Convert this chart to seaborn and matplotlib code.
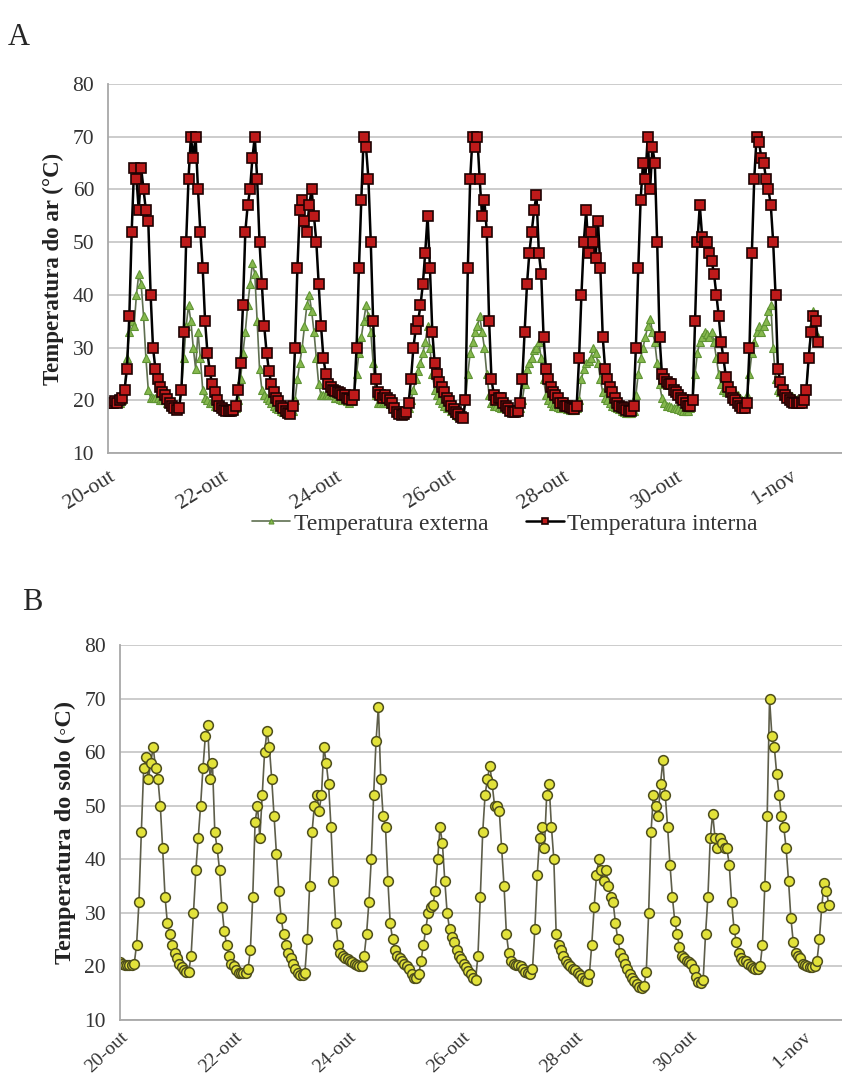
import pandas as pd
import matplotlib.pyplot as plt
import seaborn as sns

# leituras horarias (graus C) a partir de 20-out 00h, uma linha por dia
temp_externa = [
    19.5, 19.5, 19.5, 19.5, 19.5, 19.5, 20, 22, 28, 33, 35, 34, 40, 44, 42, 36, 28, 22, 20.5, 20.5, 20.5, 20.5, 20, 20,
    20, 19.5, 19, 18.7, 18.5, 18.5, 19, 22, 28, 34, 38, 35, 30, 26, 33, 28, 22, 20.5, 20, 19.5, 19.5, 19, 19, 18.8,
    18.7, 18.5, 18.3, 18.2, 18, 18, 18.5, 20, 24, 29, 33, 38, 42, 46, 44, 35, 26, 22, 21, 20.5, 20, 19.5, 19, 18.5,
    18.3, 18, 17.8, 17.5, 17.3, 17.3, 18, 20, 24, 27, 30, 34, 38, 40, 37, 33, 28, 23, 21, 21, 21, 21, 21, 21,
    20.5, 20.5, 20.3, 20, 20, 19.8, 19.5, 19.8, 21, 25, 29, 32, 35, 38, 36, 33, 27, 21, 19.5, 19.5, 19.5, 19.5, 19.5, 19.3,
    19, 18.5, 17.8, 17.3, 17.2, 17.2, 17.5, 18.5, 20, 22, 24, 25.5, 27, 29, 31, 34, 30, 25, 22, 21, 20, 19.5, 19, 18.5,
    18.5, 18, 17.5, 17.2, 17, 17, 17.5, 20, 25, 29, 31, 33, 34, 36, 33, 30, 25, 21, 19.5, 19, 19, 18.8, 18.5, 18.5,
    18.5, 18.3, 18, 17.8, 17.8, 17.8, 18.5, 20, 23, 26, 27, 28, 29.5, 30, 31, 28, 24, 21, 20, 19.5, 19, 19, 18.8, 18.5,
    18.5, 18.5, 18.3, 18.2, 18.2, 18.2, 18.5, 20, 24, 26, 27, 27.5, 28, 30, 29, 27, 24, 21.5, 20.5, 20, 19.5, 19, 18.8, 18.5,
    18.3, 18, 17.8, 17.6, 17.5, 17.5, 18, 21, 25, 28, 30, 32, 34, 35.5, 33, 31, 27, 23, 20.5, 19.5, 19, 19, 18.8, 18.5,
    18.5, 18.3, 18.2, 18, 18, 18, 18.5, 20, 25, 29, 31, 32, 33, 32.5, 32, 33, 31, 28, 25, 23, 22, 21.5, 21.5, 22,
    22, 21.5, 21, 20.5, 20, 20, 21, 25, 29, 31, 33, 34, 33, 34, 35, 37, 38, 30, 24, 22, 21.5, 21.5, 21, 21,
    21, 20.8, 20.5, 20.3, 20, 20, 20, 22, 28, 34, 37, 35, 32,
]

temp_interna = [
    19.5, 19.5, 19.5, 19.8, 19.5, 20, 20.5, 22, 26, 36, 52, 64, 62, 56, 64, 60, 56, 54, 40, 30, 26, 24, 22.5, 21.5,
    21, 20.2, 19.5, 19, 18.5, 18.2, 18.5, 22, 33, 50, 62, 70, 66, 70, 60, 52, 45, 35, 29, 25.5, 23, 21.5, 20, 19,
    18.5, 18.2, 18, 18, 18, 18.2, 19, 22, 27, 38, 52, 57, 60, 66, 70, 62, 50, 42, 34, 29, 25.5, 23, 21.5, 20.5,
    19.8, 19, 18.5, 18, 17.5, 17.3, 19, 30, 45, 56, 58, 54, 52, 57, 60, 55, 50, 42, 34, 28, 25, 23, 22.5, 22,
    21.8, 21.5, 21.3, 21, 21, 20.5, 20.3, 20, 21, 30, 45, 58, 70, 68, 62, 50, 35, 24, 21.5, 21, 20.5, 21, 20.5, 20,
    19.5, 18.5, 17.7, 17.3, 17.2, 17.3, 17.8, 19.5, 24, 30, 33.5, 35, 38, 42, 48, 55, 45, 33, 27, 25, 23.5, 22.5, 21.5, 20.5,
    19.8, 19, 18.3, 17.8, 17.3, 16.8, 16.6, 20, 45, 62, 70, 68, 70, 62, 55, 58, 52, 35, 24, 21, 20, 20.5, 20.5, 19.5,
    19, 18.5, 18, 17.8, 17.8, 18, 19.5, 24, 33, 42, 48, 52, 56, 59, 48, 44, 32, 26, 24, 22.5, 21.5, 21, 20.5, 19.5,
    19.5, 19, 19, 18.7, 18.5, 18.4, 19, 28, 40, 50, 56, 48, 52, 50, 47, 54, 45, 32, 26, 24, 22.5, 21.5, 20.5, 19.5,
    19, 18.7, 18.5, 18.2, 18, 18, 19, 30, 45, 58, 65, 62, 70, 60, 68, 65, 50, 32, 25, 24, 23.5, 23, 23, 22,
    21.5, 21, 20.5, 20, 19.5, 19, 19, 20, 35, 50, 57, 51, 50, 50, 48, 46.5, 44, 40, 36, 31, 28, 24.5, 22.5, 21.5,
    20.5, 20, 19.5, 19, 18.5, 18.5, 19.5, 30, 48, 62, 70, 69, 66, 65, 62, 60, 57, 50, 40, 26, 23.5, 22, 21, 20.5,
    20, 19.7, 19.5, 19.5, 19.5, 19.5, 20, 22, 28, 33, 36, 35, 31,
]

temp_solo = [
    20.8, 20.5, 20.3, 20.2, 20.2, 20.2, 20.5, 24, 32, 45, 57, 59, 55, 58, 61, 57, 55, 50, 42, 33, 28, 26, 24, 22.5,
    21.5, 20.5, 19.8, 19.3, 19, 19, 22, 30, 38, 44, 50, 57, 63, 65, 55, 58, 45, 42, 38, 31, 26.5, 24, 22, 20.5,
    20, 19.3, 18.8, 18.8, 18.8, 18.8, 19.5, 23, 33, 47, 50, 44, 52, 60, 64, 61, 55, 48, 41, 34, 29, 26, 24, 22.5,
    21.5, 20.5, 19.5, 18.8, 18.3, 18.3, 18.8, 25, 35, 45, 50, 52, 49, 52, 61, 58, 54, 46, 36, 28, 24, 22.5, 22, 21.5,
    21.3, 21, 20.8, 20.5, 20.3, 20, 20, 22, 26, 32, 40, 52, 62, 68.5, 55, 48, 46, 36, 28, 25, 23, 22, 21.5, 21,
    20.5, 20, 19.5, 18.5, 17.8, 17.8, 18.5, 21, 24, 27, 30, 31, 31.5, 34, 40, 46, 43, 36, 30, 27, 25.5, 24.5, 23, 22,
    21.3, 20.5, 19.8, 19.2, 18.5, 17.8, 17.5, 22, 33, 45, 52, 55, 57.5, 54, 50, 50, 49, 42, 35, 26, 22.5, 21, 20.5, 20.3,
    20.3, 20, 19.5, 19, 18.7, 18.5, 19.5, 27, 37, 44, 46, 42, 52, 54, 46, 40, 26, 24, 23, 22, 21, 20.5, 20, 19.5,
    19.3, 18.8, 18.3, 17.8, 17.5, 17.3, 18.5, 24, 31, 37, 40, 38, 36, 38, 35, 33, 32, 28, 25, 22.5, 21.5, 20.5, 19.5, 18.5,
    17.8, 17.2, 16.6, 16.2, 16, 16.3, 19, 30, 45, 52, 50, 48, 54, 58.5, 52, 46, 39, 33, 28.5, 26, 23.5, 22, 21.5, 21,
    20.8, 20.5, 19.5, 18, 17, 16.8, 17.5, 26, 33, 44, 48.5, 44, 42, 44, 43, 42, 42, 39, 32, 27, 24.5, 22.5, 21.5, 21,
    21, 20.5, 20, 19.7, 19.5, 19.5, 20, 24, 35, 48, 70, 63, 61, 56, 52, 48, 46, 42, 36, 29, 24.5, 22.5, 22, 21.5,
    20.5, 20.2, 20, 19.8, 19.8, 20, 21, 25, 31, 35.5, 34, 31.5,
]

inicio = pd.Timestamp("2012-10-20 00:00")
rotulos_x = ["20-out", "22-out", "24-out", "26-out", "28-out", "30-out", "1-nov"]
ticks_y = [10, 20, 30, 40, 50, 60, 70, 80]

df_ar = pd.DataFrame({
    "hora": pd.date_range(inicio, periods=len(temp_interna), freq="h"),
    "externa": temp_externa,
    "interna": temp_interna,
})
df_solo = pd.DataFrame({
    "hora": pd.date_range(inicio, periods=len(temp_solo), freq="h"),
    "solo": temp_solo,
})
ticks_x = pd.date_range(inicio, periods=len(rotulos_x), freq="2D")

sns.set_style("white")
plt.rcParams["font.family"] = ["Liberation Serif", "DejaVu Serif"]

fig = plt.figure(figsize=(8.42, 10.86), dpi=100)
ax1 = fig.add_axes([0.1283, 0.5829, 0.8717, 0.3398])
ax2 = fig.add_axes([0.1425, 0.0610, 0.8575, 0.3450])

################# Painel A #################
sns.lineplot(data=df_ar, x="hora", y="externa", ax=ax1, color="#5f6f50", linewidth=1.2,
             marker="^", markersize=6, markerfacecolor="#86b84e", markeredgecolor="#5f9434",
             markeredgewidth=0.8, label="Temperatura externa")
sns.lineplot(data=df_ar, x="hora", y="interna", ax=ax1, color="black", linewidth=1.8,
             marker="s", markersize=6.5, markerfacecolor="#be1a1a", markeredgecolor="#1e0202",
             markeredgewidth=1.2, label="Temperatura interna")

################# Painel B #################
sns.lineplot(data=df_solo, x="hora", y="solo", ax=ax2, color="#5e5e4a", linewidth=1.2,
             marker="o", markersize=7, markerfacecolor="#e2e23a", markeredgecolor="#4e4e1c",
             markeredgewidth=1.1)


def formata(ax, ylabel, tam_label, rot, tam_ticks, dias):
    ax.set_ylim(10, 80)
    ax.set_yticks(ticks_y)
    ax.set_xlim(inicio, inicio + pd.Timedelta(days=dias))
    ax.set_xticks(ticks_x)
    ax.set_xticklabels(rotulos_x, rotation=rot, ha="right", rotation_mode="anchor")
    ax.grid(axis="y", color="#c8c8c8", linewidth=1.3)
    ax.grid(axis="x", visible=False)
    ax.set_axisbelow(True)
    for lado in ["top", "right"]:
        ax.spines[lado].set_visible(False)
    for lado in ["left", "bottom"]:
        ax.spines[lado].set_color("#a8a8a8")
        ax.spines[lado].set_linewidth(1.3)
    ax.tick_params(axis="both", direction="out", length=7, width=1.3, color="#a8a8a8",
                   labelsize=15.5, labelcolor="#333333", pad=3)
    ax.tick_params(axis="x", labelsize=tam_ticks)
    ax.set_xlabel("")
    ax.set_ylabel(ylabel, fontsize=tam_label, fontweight="bold", color="#222222", labelpad=6)


formata(ax1, "Temperatura do ar (°C)", 16.5, 32, 15.5, 12.92)
formata(ax2, "Temperatura do solo (◦C)", 17.5, 43, 14, 12.69)
ax2.tick_params(axis="x", length=5, pad=1)

handles, labels = ax1.get_legend_handles_labels()
ax1.get_legend().remove()
fig.legend(handles, labels, loc="center", bbox_to_anchor=(0.600, 0.5175), ncol=2,
           frameon=False, fontsize=17, handlelength=1.6, handletextpad=0.15, columnspacing=1.6,
           markerscale=0.6, labelcolor="#333333")

fig.text(0.0095, 0.9586, "A", fontsize=22, va="baseline")
fig.text(0.026, 0.4383, "B", fontsize=22, va="baseline")

fig.savefig("out.png", dpi=100)
